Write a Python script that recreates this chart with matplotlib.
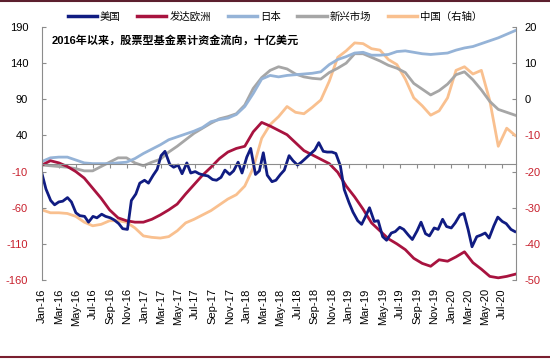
import numpy as np
import pandas as pd
import matplotlib
matplotlib.use('Agg')
import matplotlib.pyplot as plt
import matplotlib.dates as mdates
from matplotlib.lines import Line2D

plt.rcParams['font.family'] = ['Liberation Sans', 'Noto Sans CJK SC']
plt.rcParams['axes.unicode_minus'] = False

# ---- data (billion USD, cumulative equity fund flows since 2016) ----
# US, half-monthly
us_dates = pd.date_range('2016-01-01', periods=112, freq='SMS')
us = [-13, -34, -50, -56, -52, -51, -46, -52, -67, -71,
      -72, -80, -72, -74, -69, -72, -74, -77, -82, -89,
      -90, -50, -41, -26, -22, -26, -15, -7, 12, 18,
      0, -4, -1, -13, 2, -12, -10, -13, -15, -16,
      -21, -22, -18, -8, -14, -9, 3, -12, 10, 22,
      -14, -9, 16, -15, -24, -22, -14, -8, 12, 5,
      -1, 3, 9, 14, 20, 30, 18, 17, 17, 15,
      -2, -35, -53, -66, -78, -83, -72, -60, -79, -78,
      -100, -105, -95, -93, -87, -90, -98, -104, -92, -80,
      -96, -99, -88, -90, -76, -86, -88, -81, -70, -68,
      -90, -114, -100, -98, -95, -102, -85, -73, -79, -82,
      -90, -93]

# other regions, roughly monthly
dates = pd.date_range('2016-01-01', '2020-08-16', periods=57)
europe = [-1, 5, 2, -3, -10, -19, -33, -47, -63, -74,
          -78, -80, -80, -76, -70, -63, -55, -41, -28, -15,
          -4, 8, 17, 22, 25, 45, 58, 53, 47, 41,
          30, 19, 13, 7, 1, -11, -30, -45, -62, -81,
          -92, -103, -110, -118, -130, -137, -141, -132, -134, -128,
          -121, -136, -145, -155, -157, -155, -152]
japan = [4, 9, 10, 10, 6, 2, 1, 1, 1, 2,
         3, 8, 15, 21, 27, 34, 38, 42, 46, 51,
         59, 62, 64, 69, 80, 98, 118, 123, 121, 123,
         124, 125, 126, 128, 138, 145, 149, 154, 155, 151,
         151, 152, 156, 157, 155, 153, 152, 153, 154, 158,
         161, 163, 167, 171, 175, 180, 185]
em = [-1, -2, -3, -4, -6, -9, -9, -3, 3, 9,
      9, 2, -2, 3, 7, 17, 25, 34, 43, 50,
      57, 63, 66, 70, 82, 105, 120, 130, 135, 132,
      125, 121, 119, 118, 127, 133, 140, 153, 153, 148,
      143, 137, 133, 127, 112, 104, 96, 102, 111, 124,
      128, 117, 103, 87, 76, 72, 68]
china = [-30.6, -31.4, -31.4, -31.6, -32.4, -34.0, -35.0, -34.6, -33.6, -33.6,
         -34.0, -35.6, -37.8, -38.2, -38.4, -38.0, -36.4, -34.2, -33.2, -32.0,
         -30.8, -29.2, -27.6, -26.4, -24.0, -19.0, -10.8, -7.0, -4.8, -2.0,
         -3.6, -4.0, -2.2, -0.2, 5.0, 11.6, 13.4, 15.6, 15.4, 14.0,
         13.6, 11.0, 9.6, 5.6, 0.4, -1.8, -4.4, -3.2, 0.4, 8.0,
         9.0, 7.0, 8.0, -0.4, -13.0, -8.0, -10.0]

labels = ['美国', '发达欧洲', '日本', '新兴市场', '中国（右轴）']
colors = ['#101c82', '#a8133f', '#95b3d7', '#a6a6a6', '#f9c08f']

tick_dates = pd.date_range('2016-01-01', '2020-07-01', freq='2MS')
tick_labels = [d.strftime('%b-%y') for d in tick_dates]
left_ticks = [-160, -110, -60, -10, 40, 90, 140, 190]
right_ticks = [-50, -40, -30, -20, -10, 0, 10, 20]

gray = '#8c8c8c'
neg_red = '#c8202d'

x_us = mdates.date2num(us_dates)
x = mdates.date2num(dates)
ticks_x = mdates.date2num(tick_dates)

fig = plt.figure(figsize=(5.5, 3.61), dpi=100)
ax = fig.add_axes([42 / 550, 1 - 280 / 361, (516 - 42) / 550, (280 - 27) / 361])
ax2 = ax.twinx()

lw = 2.0
ax2.plot(x, china, color=colors[4], lw=lw)
ax.plot(x, em, color=colors[3], lw=lw)
ax.plot(x, japan, color=colors[2], lw=lw)
ax.plot(x, europe, color=colors[1], lw=lw)
ax.plot(x_us, us, color=colors[0], lw=lw)

ax.set_zorder(ax2.get_zorder() + 1)
ax.patch.set_visible(False)

ax.set_xlim(mdates.date2num(pd.Timestamp('2016-01-01')), mdates.date2num(pd.Timestamp('2020-08-19')))
ax.set_ylim(-160, 190)
ax2.set_ylim(-50, 20)

# spines
ax.spines['top'].set_visible(False)
ax.spines['left'].set_color(gray)
ax.spines['right'].set_visible(False)
ax.spines['bottom'].set_position(('data', 0))
ax.spines['bottom'].set_color(gray)
for s in ['top', 'bottom', 'left']:
    ax2.spines[s].set_visible(False)
ax2.spines['right'].set_color(gray)

# x ticks on zero line, labels at the bottom
ax.set_xticks(ticks_x)
ax.tick_params(axis='x', direction='out', length=3, color=gray, labelbottom=False)
lab = ax.secondary_xaxis('bottom')
lab.set_xticks(ticks_x, tick_labels, rotation=90)
lab.tick_params(length=0, pad=6, labelsize=8)
lab.spines['bottom'].set_visible(False)

# y ticks
ax.set_yticks(left_ticks, [str(v) for v in left_ticks])
ax.tick_params(axis='y', direction='in', length=3, color=gray, labelsize=8, pad=10)
for t, v in zip(ax.get_yticklabels(), left_ticks):
    t.set_color(neg_red if v < 0 else 'black')
ax2.set_yticks(right_ticks, [str(v) for v in right_ticks])
ax2.tick_params(axis='y', direction='in', length=3, color=gray, labelsize=8, pad=6)
for t, v in zip(ax2.get_yticklabels(), right_ticks):
    t.set_color(neg_red if v < 0 else 'black')

# title inside plot
ax.text(0.021, 0.948, '2016年以来，股票型基金累计资金流向，十亿美元',
        transform=ax.transAxes, ha='left', va='center', fontsize=8, fontweight='bold')

# legend
handles = [Line2D([], [], color=c, lw=2.5) for c in colors]
fig.legend(handles, labels, loc='center', bbox_to_anchor=(0.5, 0.953), ncol=5,
           frameon=False, fontsize=7.5, handlelength=2.8, handletextpad=0.3,
           columnspacing=1.6)

# frame lines of the original screenshot
fig.add_artist(Line2D([0, 1], [0.997, 0.997], transform=fig.transFigure, color='#5c1f2e', lw=1.5))
fig.add_artist(Line2D([0, 1], [0.01, 0.01], transform=fig.transFigure, color='#7a1f2f', lw=1.5))

fig.savefig('out.png', dpi=100)
